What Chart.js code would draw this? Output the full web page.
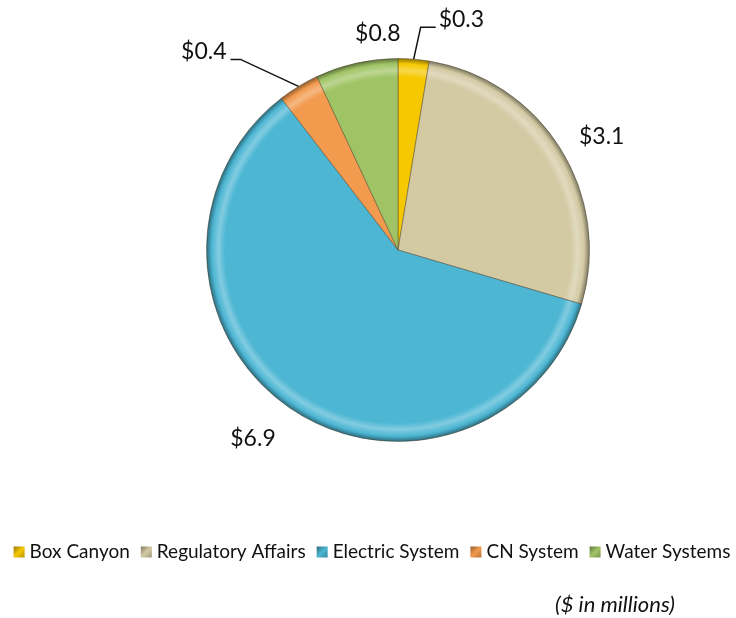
<!DOCTYPE html>
<html>
<head>
<meta charset="utf-8">
<title>Spending by system</title>
<script src="https://cdn.jsdelivr.net/npm/chart.js@4/dist/chart.umd.min.js"></script>
<style>
  html, body { margin: 0; padding: 0; background: #fff; }
  #wrap { width: 736px; height: 618px; position: relative; }
</style>
</head>
<body>
<div id="wrap"><canvas id="pie"></canvas></div>
<script>
// data ($ in millions)
let categories = ["Box Canyon", "Regulatory Affairs", "Electric System", "CN System", "Water Systems"];
let amounts = [0.3, 3.1, 6.9, 0.4, 0.8];
let sliceColors = ["#f5c800", "#d3caa3", "#4cb6d3", "#f29a4e", "#a0c465"];
let noteText = "($ in millions)";

const FONT = "Lato, 'Open Sans', sans-serif";

function shade(hex, amt) {
  let n = parseInt(hex.slice(1), 16);
  let r = (n >> 16) & 255, g = (n >> 8) & 255, b = n & 255;
  let f = v => Math.max(0, Math.min(255, Math.round(amt < 0 ? v * (1 + amt) : v + (255 - v) * amt)));
  return `rgb(${f(r)},${f(g)},${f(b)})`;
}

// radial fill that fakes the bevelled rim (uses the chart area, arcs aren't placed yet)
function bevelFill(context) {
  let chart = context.chart;
  let area = chart.chartArea;
  let base = sliceColors[context.dataIndex];
  if (!area) return base;
  let cx = (area.left + area.right) / 2;
  let cy = (area.top + area.bottom) / 2;
  let r = Math.min(area.right - area.left, area.bottom - area.top) / 2;
  let g = chart.ctx.createRadialGradient(cx, cy, 0, cx, cy, r);
  g.addColorStop(0, base);
  g.addColorStop(0.9, base);
  g.addColorStop(0.935, shade(base, 0.3));
  g.addColorStop(0.97, base);
  g.addColorStop(1, shade(base, -0.45));
  return g;
}

// per-slice label placement: distance past the rim, and leader line for the small ones
let labelSpots = [
  { dist: 0, leader: true, elbow: [7, -32], tail: 15, align: "left" },
  { dist: 43, tweak: [5, 11] },
  { dist: 49, tweak: [-9, -10] },
  { dist: 0, leader: true, elbow: [-58, -27], tail: -10, align: "right" },
  { dist: 26, tweak: [27, -4] }
];

const valueLabels = {
  id: "valueLabels",
  afterDatasetsDraw(chart) {
    let ctx = chart.ctx;
    let meta = chart.getDatasetMeta(0);
    ctx.save();
    ctx.font = "23px " + FONT;
    ctx.fillStyle = "#111";
    ctx.strokeStyle = "#111";
    ctx.lineWidth = 1.5;
    ctx.textBaseline = "middle";
    meta.data.forEach((arc, i) => {
      let spot = labelSpots[i];
      let mid = (arc.startAngle + arc.endAngle) / 2;
      let text = "$" + amounts[i].toFixed(1);
      let ex = arc.x + Math.cos(mid) * arc.outerRadius;
      let ey = arc.y + Math.sin(mid) * arc.outerRadius;
      if (spot.leader) {
        let kx = ex + spot.elbow[0], ky = ey + spot.elbow[1];
        let tx = kx + spot.tail;
        ctx.beginPath();
        ctx.moveTo(ex, ey);
        ctx.lineTo(kx, ky);
        ctx.lineTo(tx, ky);
        ctx.stroke();
        ctx.textAlign = spot.align;
        ctx.fillText(text, tx + (spot.align === "left" ? 3 : -4), ky - 8);
      } else {
        let r = arc.outerRadius + spot.dist;
        ctx.textAlign = "center";
        ctx.fillText(text, arc.x + Math.cos(mid) * r + spot.tweak[0], arc.y + Math.sin(mid) * r + spot.tweak[1]);
      }
    });
    ctx.restore();
  }
};

// one-row legend under the pie plus the units note
const bottomLegend = {
  id: "bottomLegend",
  afterDraw(chart) {
    let ctx = chart.ctx;
    ctx.save();
    ctx.font = "19px " + FONT;
    ctx.textBaseline = "middle";
    let box = 11, gapBox = 5, gapItem = 11;
    let widths = categories.map(c => ctx.measureText(c).width);
    let total = widths.reduce((a, w) => a + box + gapBox + w, 0) + gapItem * (categories.length - 1);
    let x = 372 - total / 2;
    let y = 552;
    categories.forEach((c, i) => {
      let col = sliceColors[i];
      let g = ctx.createLinearGradient(x, y - box / 2, x + box, y + box / 2);
      g.addColorStop(0, shade(col, -0.4));
      g.addColorStop(0.5, col);
      g.addColorStop(1, shade(col, -0.25));
      ctx.fillStyle = g;
      ctx.fillRect(x, y - box / 2, box, box);
      x += box + gapBox;
      ctx.fillStyle = "#111";
      ctx.textAlign = "left";
      ctx.fillText(c, x, y);
      x += widths[i] + gapItem;
    });
    ctx.font = "italic 22px " + FONT;
    ctx.textAlign = "center";
    ctx.fillText(noteText, 615, 605);
    ctx.restore();
  }
};

new Chart(document.getElementById("pie"), {
  type: "pie",
  data: {
    labels: categories,
    datasets: [{
      data: amounts,
      backgroundColor: bevelFill,
      borderColor: "rgba(70,60,40,0.45)",
      borderWidth: 1
    }]
  },
  options: {
    responsive: true,
    maintainAspectRatio: false,
    animation: false,
    layout: { padding: { top: 58, bottom: 176, left: 206, right: 146 } },
    plugins: {
      legend: { display: false },
      tooltip: { enabled: false }
    }
  },
  plugins: [valueLabels, bottomLegend]
});
</script>
</body>
</html>
